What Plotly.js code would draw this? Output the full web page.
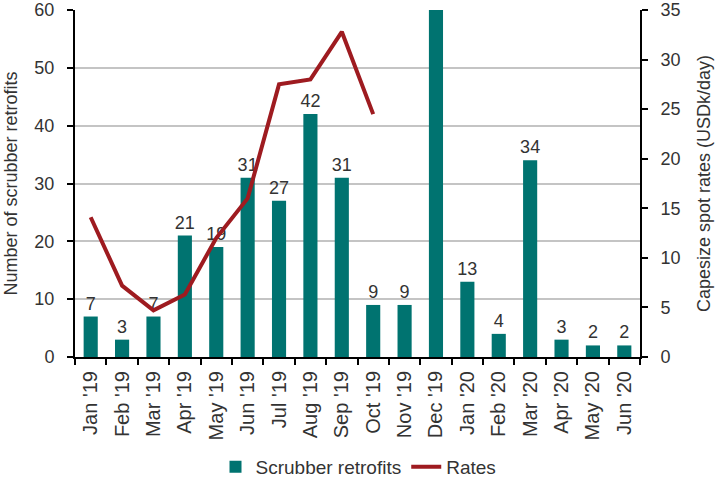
<!DOCTYPE html>
<html><head><meta charset="utf-8">
<script src="https://cdn.plot.ly/plotly-3.0.1.min.js"></script>
<style>body{margin:0;padding:0;background:#fff}#chart{width:717px;height:495px}</style>
</head><body><div id="chart"></div>
<script>
const months = ["Jan '19","Feb '19","Mar '19","Apr '19","May '19","Jun '19","Jul '19","Aug '19","Sep '19","Oct '19","Nov '19","Dec '19","Jan '20","Feb '20","Mar '20","Apr '20","May '20","Jun '20"];
const retrofits = [7,3,7,21,19,31,27,42,31,9,9,70,13,4,34,3,2,2];
const rateMonths = ["Jan '19","Feb '19","Mar '19","Apr '19","May '19","Jun '19","Jul '19","Aug '19","Sep '19","Oct '19"];
const rates = [14.1,7.2,4.7,6.3,12.0,16.0,27.5,28.0,32.8,24.5];
const yMax = 60;
// labels of bars that run past the top of the axis are cut off in the reference
const barLabels = retrofits.map(v => v > yMax ? '' : String(v));

const font = {family:"Liberation Sans, Arial, sans-serif", size:18, color:"#333"};
const traces = [
  {type:'bar', x:months, y:retrofits, name:'Scrubber retrofits', marker:{color:'#007370'},
   width:0.45, text:barLabels, textposition:'outside', cliponaxis:true, constraintext:'none',
   textfont:{family:font.family,size:18,color:'#333'}, hoverinfo:'x+y'},
  {type:'scatter', mode:'lines', x:rateMonths, y:rates, name:'Rates', yaxis:'y2',
   line:{color:'#9E1B20', width:4}}
];
const layout = {
  width:717, height:495, margin:{l:75,r:77,t:10,b:138},
  paper_bgcolor:'#fff', plot_bgcolor:'#fff', font:font,
  showlegend:true,
  legend:{orientation:'h', x:0.5, xanchor:'center', xref:'container', yref:'container', y:0.057, yanchor:'middle',
    font:{size:19,color:'#333'}},
  xaxis:{type:'category', tickangle:-90, showline:true, linecolor:'#000', linewidth:2,
    ticks:'outside', tickson:'boundaries', ticklen:6, tickcolor:'#000', tickwidth:2,
    tickfont:{size:20,color:'#333'}, ticklabelstandoff:4, showgrid:false},
  yaxis:{range:[0,yMax], dtick:10, showline:true, linecolor:'#000', linewidth:2,
    ticks:'outside', ticklen:6, tickcolor:'#000', tickwidth:2, gridcolor:'#c4c4c4', gridwidth:2,
    tickfont:{size:18,color:'#333'}, zeroline:false, ticklabelstandoff:9,
    title:{text:'Number of scrubber retrofits', font:{size:18,color:'#333'}, standoff:12}},
  yaxis2:{range:[0,35], dtick:5, overlaying:'y', side:'right', showline:true, linecolor:'#000', linewidth:2,
    ticks:'outside', ticklen:6, tickcolor:'#000', tickwidth:2, showgrid:false, zeroline:false,
    tickfont:{size:18,color:'#333'}, ticklabelstandoff:9,
    title:{text:'Capesize spot rates (USDk/day)', font:{size:18,color:'#333'}, standoff:18}}
};
Plotly.newPlot('chart', traces, layout, {displayModeBar:false, staticPlot:true});
</script></body></html>
